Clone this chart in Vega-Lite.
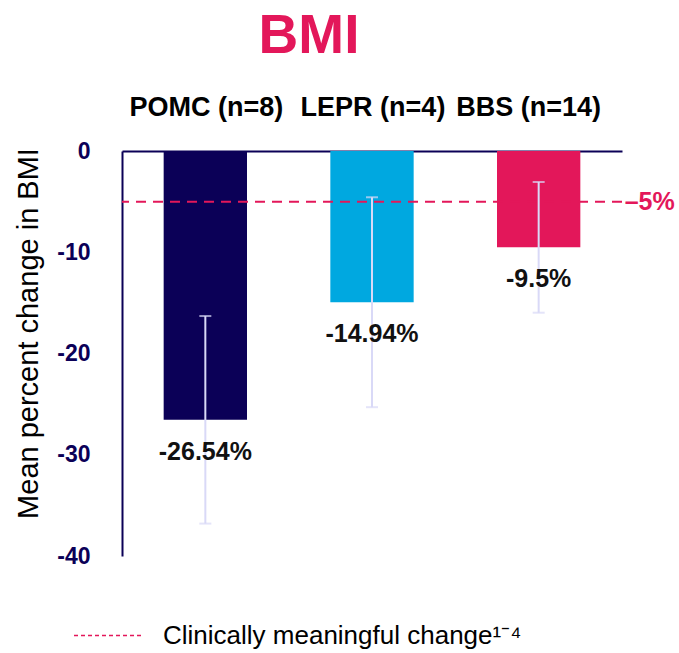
{
  "$schema": "https://vega.github.io/schema/vega-lite/v6.json",
  "width": 500,
  "height": 405,
  "autosize": {"type": "none"},
  "padding": {"left": 122, "top": 151, "right": 57, "bottom": 97},
  "background": "white",
  "config": {
    "view": {"stroke": null},
    "font": "Liberation Sans"
  },
  "title": {
    "text": "BMI",
    "fontSize": 55,
    "fontWeight": "bold",
    "color": "#E3175A",
    "anchor": "middle",
    "frame": "group",
    "baseline": "alphabetic",
    "offset": -15,
    "dx": -63
  },
  "datasets": {
    "bars": [
      {"group": "POMC (n=8)", "mean": -26.54, "lo": -36.8, "hi": -16.3, "label": "-26.54%"},
      {"group": "LEPR (n=4)", "mean": -14.94, "lo": -25.3, "hi": -4.57, "label": "-14.94%"},
      {"group": "BBS (n=14)", "mean": -9.5, "lo": -15.97, "hi": -3.06, "label": "-9.5%"}
    ],
    "threshold": [
      {"threshold": -5, "label": "–5%", "series": "Clinically meaningful change¹⁻⁴", "anchor": "BBS (n=14)"}
    ]
  },
  "layer": [
    {
      "data": {"name": "bars"},
      "mark": {"type": "bar"},
      "encoding": {
        "x": {
          "field": "group",
          "type": "nominal",
          "sort": null,
          "scale": {"paddingInner": 0.5, "paddingOuter": 0.25},
          "axis": {
            "orient": "top",
            "title": null,
            "labelAngle": 0,
            "labelFontSize": 27,
            "labelFontWeight": "bold",
            "labelColor": "#000000",
            "labelPadding": 36,
            "labelBaseline": "alphabetic",
            "labelOffset": {"condition": {"test": "datum.value === 'BBS (n=14)'", "value": -10}, "value": 1},
            "ticks": false,
            "domainColor": "#0B0057",
            "domainWidth": 2
          }
        },
        "y": {
          "field": "mean",
          "type": "quantitative",
          "scale": {"domain": [-40, 0], "nice": false},
          "axis": {
            "orient": "left",
            "values": [0, -10, -20, -30, -40],
            "labelExpr": "'' + datum.value",
            "labelFontSize": 23,
            "labelFontWeight": "bold",
            "labelColor": "#0B0057",
            "labelPadding": 32,
            "ticks": false,
            "grid": false,
            "domainColor": "#0B0057",
            "domainWidth": 2,
            "title": "Mean percent change in BMI",
            "titleFontSize": 29,
            "titleFontWeight": "normal",
            "titleColor": "#000000",
            "titleAngle": -90,
            "titleAlign": "center",
            "titleBaseline": "middle",
            "titleX": -94,
            "titleY": 182
          }
        },
        "fill": {
          "field": "group",
          "type": "nominal",
          "scale": {"domain": ["POMC (n=8)", "LEPR (n=4)", "BBS (n=14)"], "range": ["#0B0057", "#00A8E0", "#E3175A"]},
          "legend": null
        }
      }
    },
    {
      "data": {"name": "threshold"},
      "mark": {"type": "rule", "strokeWidth": 2, "strokeDash": [10, 7]},
      "encoding": {
        "y": {"field": "threshold", "type": "quantitative"},
        "stroke": {
          "field": "series",
          "type": "nominal",
          "scale": {"range": ["#E3175A"]},
          "legend": {
            "title": null,
            "orient": "none",
            "legendX": -49,
            "legendY": 450,
            "padding": 0,
            "symbolType": "stroke",
            "symbolSize": 4489,
            "symbolStrokeWidth": 1.5,
            "symbolDash": [4, 3],
            "labelFontSize": 26,
            "labelColor": "#000000",
            "labelOffset": 21,
            "labelLimit": 600
          }
        }
      }
    },
    {
      "data": {"name": "bars"},
      "mark": {"type": "rule", "color": "#D9D9F7", "strokeWidth": 2},
      "encoding": {
        "x": {"field": "group", "type": "nominal", "sort": null},
        "y": {"field": "lo", "type": "quantitative"},
        "y2": {"field": "hi"}
      }
    },
    {
      "data": {"name": "bars"},
      "mark": {"type": "tick", "color": "#D9D9F7", "thickness": 2, "size": 12, "orient": "horizontal"},
      "encoding": {
        "x": {"field": "group", "type": "nominal", "sort": null},
        "y": {"field": "lo", "type": "quantitative"}
      }
    },
    {
      "data": {"name": "bars"},
      "mark": {"type": "tick", "color": "#D9D9F7", "thickness": 2, "size": 12, "orient": "horizontal"},
      "encoding": {
        "x": {"field": "group", "type": "nominal", "sort": null},
        "y": {"field": "hi", "type": "quantitative"}
      }
    },
    {
      "data": {"name": "bars"},
      "mark": {"type": "text", "fontSize": 25, "fontWeight": "bold", "color": "#111111", "baseline": "alphabetic", "dy": 40},
      "encoding": {
        "x": {"field": "group", "type": "nominal", "sort": null},
        "y": {"field": "mean", "type": "quantitative"},
        "text": {"field": "label"}
      }
    },
    {
      "data": {"name": "threshold"},
      "mark": {"type": "text", "fontSize": 25, "fontWeight": "bold", "color": "#E3175A", "baseline": "middle", "align": "left", "dx": 86},
      "encoding": {
        "x": {"datum": "BBS (n=14)", "type": "nominal"},
        "y": {"field": "threshold", "type": "quantitative"},
        "text": {"field": "label"}
      }
    }
  ]
}
